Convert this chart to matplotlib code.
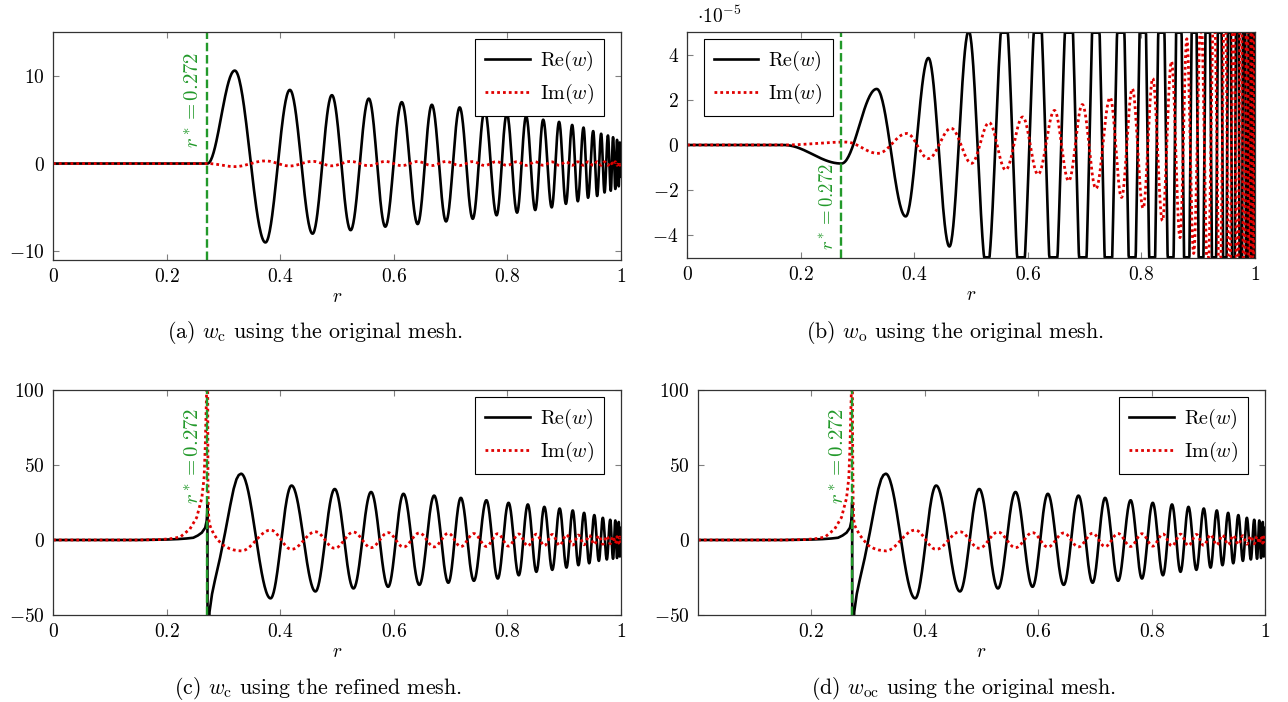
import numpy as np
import matplotlib
matplotlib.use("Agg")
import matplotlib.pyplot as plt

# Schrift wie im LaTeX-Original (Computer Modern)
plt.rcParams["font.family"] = "serif"
plt.rcParams["font.serif"] = ["cmr10"]
plt.rcParams["mathtext.fontset"] = "cm"
plt.rcParams["axes.formatter.use_mathtext"] = True

r_star = 0.272

a_r = [0, 0.272, 0.320, 0.374, 0.417, 0.457, 0.491, 0.524, 0.556, 0.585, 0.614, 0.642,
       0.667, 0.692, 0.716, 0.739, 0.760, 0.781, 0.799, 0.817, 0.833, 0.849,
       0.863, 0.878, 0.891, 0.903, 0.914, 0.924, 0.934, 0.942, 0.951, 0.958,
       0.965, 0.971, 0.977, 0.982, 0.986, 0.990, 0.993, 0.996, 0.998, 1.0]
a_re = [0, 0, 10.6, -9.0, 8.4, -8.0, 7.8, -7.6, 7.4, -7.2, 7.0, -6.9,
        6.7, -6.6, 6.4, -6.3, 6.1, -5.9, 5.7, -5.6, 5.4, -5.3,
        5.0, -5.0, 4.75, -4.6, 4.4, -4.3, 4.1, -3.9, 3.7, -3.7,
        3.4, -3.3, 3.2, -3.1, 3.0, -2.9, 2.7, -2.6, 2.4, -1.5]
a_im = [0, 0, -0.35, 0.3, -0.28, 0.25, -0.26, 0.24, -0.25, 0.24, -0.24, 0.23,
        -0.23, 0.23, -0.22, 0.22, -0.22, 0.22, -0.21, 0.21, -0.21, 0.2,
        -0.2, 0.2, -0.2, 0.2, -0.2, 0.2, -0.2, 0.2, -0.2, 0.2,
        -0.2, 0.2, -0.2, 0.2, -0.2, 0.2, -0.2, 0.2, -0.2, 0.1]

# (b) w_o, original mesh, Werte in Einheiten von 1e-5
b_re_r = [0, 0.17, 0.272, 0.334, 0.385, 0.425, 0.462, 0.496, 0.528, 0.559,
          0.588, 0.618, 0.645, 0.673, 0.697, 0.720, 0.742, 0.764, 0.784, 0.803,
          0.819, 0.835, 0.852, 0.866, 0.880, 0.893, 0.905, 0.917, 0.928, 0.938,
          0.947, 0.955, 0.962, 0.969, 0.975, 0.981, 0.986, 0.990, 0.994, 0.997, 1.0]
b_re = [0, 0, -0.82, 2.48, -3.16, 3.85, -4.49, 5.05, -5.6, 6.3,
        -6.7, 7.1, -7.4, 7.7, -8.0, 8.3, -8.6, 8.9, -9.2, 9.5,
        -9.8, 10.1, -10.4, 10.7, -11.0, 11.3, -11.6, 12.0, -12.3, 12.6,
        -13.0, 13.3, -13.6, 14.0, -14.3, 14.6, -15.0, 15.3, -15.6, 16.0, -16.0]
b_im_r = [0, 0.17, 0.28, 0.336, 0.387, 0.425, 0.465, 0.501, 0.532, 0.561,
          0.591, 0.618, 0.647, 0.672, 0.696, 0.720, 0.745, 0.765, 0.784, 0.803,
          0.820, 0.837, 0.853, 0.868, 0.880, 0.892, 0.905, 0.917, 0.928, 0.938,
          0.947, 0.955, 0.962, 0.969, 0.975, 0.981, 0.986, 0.990, 0.994, 0.997, 1.0]
b_im = [0, 0, 0.13, -0.37, 0.51, -0.6, 0.74, -0.81, 0.99, -1.1,
        1.24, -1.3, 1.53, -1.59, 1.79, -1.93, 2.1, -2.32, 2.49, -2.8,
        2.95, -3.35, 3.7, -4.1, 4.7, -4.8, 5.6, -6.0, 6.5, -7.0,
        7.5, -8.0, 8.5, -9.0, 9.5, -10.0, 10.5, -11.0, 11.5, -12.0, 12.0]

# (c) w_c, refined mesh: Verlauf um die Singularitaet r*
c_re_pre_r = [0, 0.15, 0.2, 0.22, 0.235, 0.247, 0.255, 0.262, 0.268, 0.2705, 0.2715, 0.2719]
c_re_pre = [0, 0, 0.3, 0.6, 1.0, 1.5, 3.0, 4.9, 8.2, 12.7, 18.0, 25.0]
c_re_post_r = [0.2722, 0.274, 0.2755, 0.280, 0.285, 0.294, 0.303, 0.312, 0.318, 0.323, 0.327]
c_re_post = [-150, -70, -48, -36, -27, -12, 4.9, 23, 34, 40.5, 43.3]
c_im_pre_r = [0, 0.15, 0.19, 0.21, 0.224, 0.241, 0.253, 0.262, 0.266, 0.268, 0.2694, 0.2705, 0.2715]
c_im_pre = [0, 0, 0.3, 1.0, 2.0, 7.3, 15, 28, 41.5, 61.5, 84, 100, 130]
c_im_post_r = [0.2722, 0.2728, 0.2735, 0.275, 0.278, 0.283, 0.290, 0.300, 0.310, 0.318, 0.325]
c_im_post = [130, 40, 20, 11, 8, 4, 0, -3.5, -5.6, -6.6, -7.1]
# Extrema ab dem ersten Maximum
c_r = [0.331, 0.383, 0.42, 0.462, 0.496, 0.529, 0.56, 0.59, 0.617, 0.645,
       0.671, 0.696, 0.718, 0.741, 0.763, 0.783, 0.802, 0.82, 0.836, 0.851,
       0.865, 0.879, 0.892, 0.904, 0.915, 0.925, 0.935, 0.944, 0.953, 0.961,
       0.968, 0.975, 0.981, 0.986, 0.990, 0.993, 0.996, 0.998, 1.0]
c_re = [44.2, -38.9, 36.3, -34.3, 34.0, -32.3, 32.0, -31.2, 30.8, -29.9,
        29.6, -28.5, 28.1, -27.2, 26.5, -25.7, 24.8, -23.5, 23.7, -21.2,
        22.1, -19.9, 21.0, -18.4, 19.7, -16.8, 18.1, -15.5, 16.6, -13.9,
        14.8, -13.0, 13.5, -12.5, 13.0, -12.0, 12.0, -11.0, 8.0]
c_im = [-7.3, 6.6, -6.2, 5.5, -5.5, 5.3, -5.1, 4.9, -4.7, 4.7,
        -4.6, 4.5, -4.4, 4.3, -4.3, 4.2, -4.1, 4.0, -4.0, 3.9,
        -3.8, 3.7, -3.6, 3.5, -3.4, 3.3, -3.2, 3.1, -3.0, 2.9,
        -2.8, 2.6, -2.5, 2.4, -2.3, 2.2, -2.1, 2.0, -1.8]

# (d) w_oc, original mesh: sieht aus wie (c), nur Im rechts von r* etwas anders
d_im_post_r = [0.2722, 0.2726, 0.2730, 0.2736, 0.2745, 0.276, 0.280, 0.285, 0.292, 0.300, 0.310, 0.318, 0.325]
d_im_post = [130, 75, 50, 25, 14, 10, 7, 3.5, 0, -3.5, -5.6, -6.6, -7.1]

x_ticks = [0, 0.2, 0.4, 0.6, 0.8, 1]
x_ticklabels = ["$0$", "$0.2$", "$0.4$", "$0.6$", "$0.8$", "$1$"]

W, H = 1288, 702
RE_COL = "black"
IM_COL = "#e00000"
GREEN = "#22992a"
FS = 14


def wave(rk, vk, n=40):
    rr, vv = [], []
    for i in range(len(rk) - 1):
        t = np.linspace(0, 1, n, endpoint=False)
        s = (1 - np.cos(np.pi * t)) / 2
        rr.append(rk[i] + (rk[i + 1] - rk[i]) * t)
        vv.append(vk[i] + (vk[i + 1] - vk[i]) * s)
    rr.append([rk[-1]])
    vv.append([vk[-1]])
    return np.concatenate(rr), np.concatenate(vv)


def px_axes(fig, l, t, r, b):
    return fig.add_axes([l / W, 1 - b / H, (r - l) / W, (b - t) / H])


def style_axes(ax, ylim, yticks, yticklabels, xticks=x_ticks, xticklabels=x_ticklabels):
    ax.set_xlim(0, 1)
    ax.set_ylim(*ylim)
    ax.set_xticks(xticks)
    ax.set_xticklabels(xticklabels)
    ax.set_yticks(yticks)
    ax.set_yticklabels(yticklabels)
    ax.tick_params(direction="in", top=True, right=True, length=4, width=0.8,
                   color="0.5", labelsize=FS, pad=6)
    for sp in ax.spines.values():
        sp.set_linewidth(0.9)
        sp.set_color("0.2")
    ax.set_xlabel("$r$", fontsize=FS, labelpad=1)


def draw(ax, re_xy, im_xy, text_y, text_va, legend_loc, legend_anchor, text_fs=FS + 1):
    l1, = ax.plot(*re_xy, color=RE_COL, lw=1.9, label=r"$\mathrm{Re}(w)$")
    l2, = ax.plot(*im_xy, color=IM_COL, lw=2.0, ls=(0, (1, 1.1)),
                  dash_capstyle="butt", label=r"$\mathrm{Im}(w)$")
    ax.axvline(r_star, color=GREEN, lw=1.7, ls=(0, (3.6, 1.6)))
    ax.annotate(r"$r^* = 0.272$", xy=(r_star, text_y), xytext=(-3, 0),
                textcoords="offset points", rotation=90, color=GREEN,
                ha="right", va=text_va, fontsize=text_fs)
    leg = ax.legend(handles=[l1, l2], loc=legend_loc, bbox_to_anchor=legend_anchor,
                    borderaxespad=0, fancybox=False, framealpha=1, fontsize=FS + 0.5,
                    handlelength=2.2, handletextpad=0.5, labelspacing=0.45,
                    borderpad=0.5)
    leg.get_frame().set_edgecolor("black")
    leg.get_frame().set_linewidth(0.8)


fig = plt.figure(figsize=(W / 100, H / 100), dpi=100)

# (a)
ax = px_axes(fig, 53, 32, 621, 260)
style_axes(ax, (-11, 15), [-10, 0, 10], ["$-10$", "$0$", "$10$"])
draw(ax, wave(a_r, a_re), wave(a_r, a_im), 1.8, "bottom", "upper right", (0.97, 0.97))

# (b)
ax = px_axes(fig, 687, 32, 1255, 258)
style_axes(ax, (-5, 5), [-4, -2, 0, 2, 4], ["$-4$", "$-2$", "$0$", "$2$", "$4$"])
rb, vb = wave(b_re_r, b_re)
rbi, vbi = wave(b_im_r, b_im)
draw(ax, (rb, np.clip(vb, -4.97, 4.97)), (rbi, np.clip(vbi, -4.97, 4.97)),
     -0.8, "top", "upper left", (0.03, 0.97), text_fs=FS - 0.5)
ax.text(0.018, 1.02, r"$\cdot 10^{-5}$", transform=ax.transAxes, ha="left",
        va="bottom", fontsize=FS)

# (c)
ax = px_axes(fig, 53, 390, 621, 615)
style_axes(ax, (-50, 100), [-50, 0, 50, 100], ["$-50$", "$0$", "$50$", "$100$"])
rw, vw = wave(c_r, c_re)
rwi, vwi = wave(c_r, c_im)
re_c = (np.concatenate([c_re_pre_r, c_re_post_r, rw]), np.concatenate([c_re_pre, c_re_post, vw]))
im_c = (np.concatenate([c_im_pre_r, c_im_post_r, rwi]), np.concatenate([c_im_pre, c_im_post, vwi]))
draw(ax, re_c, im_c, 24, "bottom", "upper right", (0.97, 0.97))

# (d)
ax = px_axes(fig, 698, 390, 1265, 615)
style_axes(ax, (-50, 100), [-50, 0, 50, 100], ["$-50$", "$0$", "$50$", "$100$"],
           xticks=x_ticks[1:], xticklabels=x_ticklabels[1:])
im_d = (np.concatenate([c_im_pre_r, d_im_post_r, rwi]), np.concatenate([c_im_pre, d_im_post, vwi]))
draw(ax, re_c, im_d, 24, "bottom", "upper right", (0.97, 0.97))

# Bildunterschriften (zentriert auf die ganze Teilabbildung inkl. Achsenbeschriftung)
captions = [
    (315, 333, r"(a) $w_\mathrm{c}$ using the original mesh."),
    (955, 333, r"(b) $w_\mathrm{o}$ using the original mesh."),
    (318, 689, r"(c) $w_\mathrm{c}$ using the refined mesh."),
    (963, 689, r"(d) $w_\mathrm{oc}$ using the original mesh."),
]
for cx, cy, txt in captions:
    fig.text(cx / W, 1 - cy / H, txt, ha="center", va="center", fontsize=15.8)

fig.savefig("out.png", dpi=100)
